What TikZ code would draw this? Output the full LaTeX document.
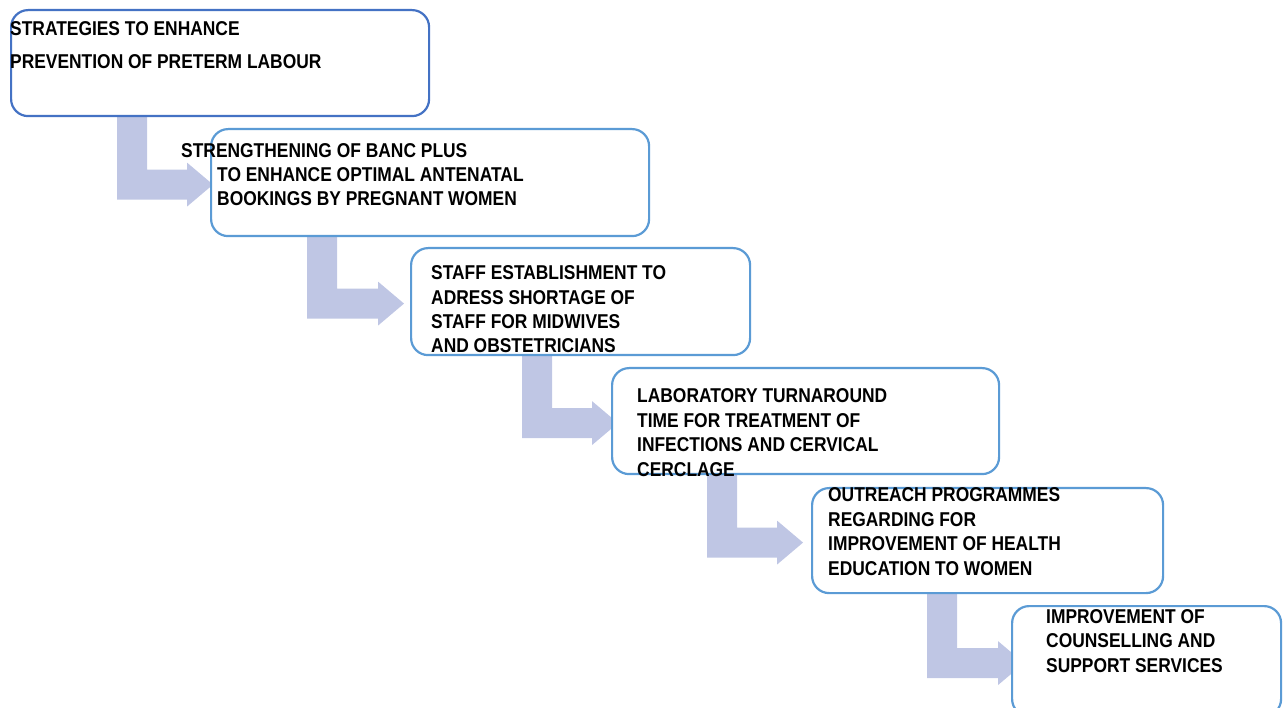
\documentclass[tikz,border=0pt]{standalone}
\usepackage{fontspec}
\usetikzlibrary{calc,backgrounds}
\newfontfamily\boxfont{Liberation Sans}[FakeStretch=0.87]
\definecolor{boxdark}{RGB}{68,114,196}
\definecolor{boxlight}{RGB}{91,155,213}
\definecolor{arrowfill}{RGB}{191,198,228}
% bent block arrow: #1 from box, #2 to box, #3 bar offset, #4 gap of head base
\newcommand{\bentArrow}[4]{%
  \coordinate (bartop) at ($(#1.south west)+(#3,-6)$);
  \coordinate (midline) at ($(#2.west)+(0,2)$);
  \fill[arrowfill] (bartop) -- ++(30,0) |- ($(midline)+(-#4,-15)$) -- ++(0,-7)
    -- ($(midline)+(26-#4,0)$) -- ($(midline)+(-#4,22)$) -- ++(0,-7) -| (bartop) -- cycle;}

\begin{document}
\begin{tikzpicture}[x=1pt,y=-1pt,
    box/.style={draw=boxlight,line width=2.2pt,rounded corners=17pt,fill=white,
      anchor=north west,inner sep=0pt},
    boxtext/.style={anchor=base west,align=left,inner sep=0pt,
      font=\boxfont\bfseries\fontsize{20pt}{24.4pt}\selectfont}]
        \useasboundingbox (0,0) rectangle (1283,708);

        % Boxes
        \node[box,draw=boxdark,minimum width=418pt,minimum height=106pt] (b1) at (10,9) {};
        \node[box,minimum width=438pt,minimum height=107pt] (b2) at (210,128) {};
        \node[box,minimum width=339pt,minimum height=107pt] (b3) at (410,247) {};
        \node[box,minimum width=387pt,minimum height=106pt] (b4) at (611,367) {};
        \node[box,minimum width=351pt,minimum height=105pt] (b5) at (811,487) {};
        \node[box,minimum width=269pt,minimum height=110pt] (b6) at (1011,605) {};

        % Arrows behind the boxes
        \begin{scope}[on background layer]
            \bentArrow{b1}{b2}{107}{23}
            \bentArrow{b2}{b3}{97}{32}
            \bentArrow{b3}{b4}{112}{19}
            \bentArrow{b4}{b5}{96}{34}
            \bentArrow{b5}{b6}{116}{13}
        \end{scope}

        % Texts (base = baseline of last line)
        \node[boxtext] (t1) at (10,69) {STRATEGIES TO ENHANCE\\[9pt]PREVENTION OF PRETERM LABOUR};
        \node[boxtext] (t2a) at (181,158) {STRENGTHENING OF BANC PLUS};
        \node[boxtext] (t2b) at (217,206) {TO ENHANCE OPTIMAL ANTENATAL\\BOOKINGS BY PREGNANT WOMEN};
        \node[boxtext] (t3) at (431,353) {STAFF ESTABLISHMENT TO\\ADRESS SHORTAGE OF\\STAFF FOR MIDWIVES\\AND OBSTETRICIANS};
        \node[boxtext] (t4) at (637,476) {LABORATORY TURNAROUND\\TIME FOR TREATMENT OF\\INFECTIONS AND CERVICAL\\CERCLAGE};
        \node[boxtext] (t5) at (828,575) {OUTREACH PROGRAMMES\\REGARDING FOR\\IMPROVEMENT OF HEALTH\\EDUCATION TO WOMEN};
        \node[boxtext] (t6) at (1046,672) {IMPROVEMENT OF\\COUNSELLING AND\\SUPPORT SERVICES};
\end{tikzpicture}
\end{document}
